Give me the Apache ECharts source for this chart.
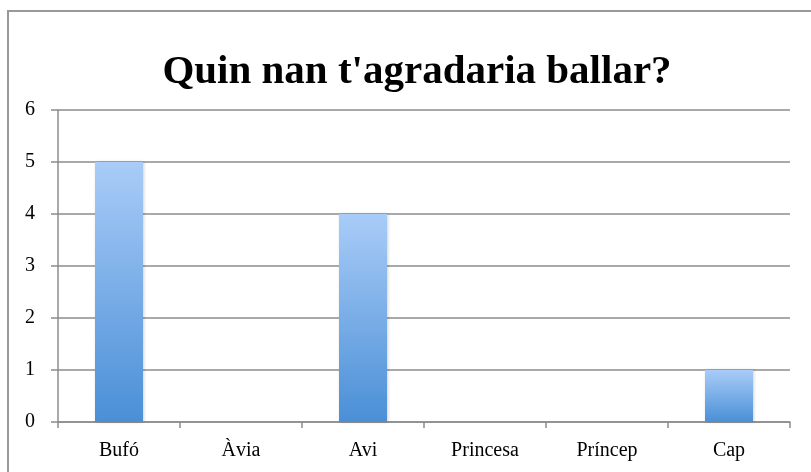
<!DOCTYPE html>
<html>
<head>
<meta charset="utf-8">
<script src="https://cdn.jsdelivr.net/npm/echarts@6/dist/echarts.min.js"></script>
<style>
  html, body { margin: 0; padding: 0; background: #fff; }
  #chart { width: 811px; height: 472px; }
</style>
</head>
<body>
<div id="chart"></div>
<script>
const categories = ['Bufó', 'Àvia', 'Avi', 'Princesa', 'Príncep', 'Cap'];
const values = [5, 0, 4, 0, 0, 1];
const yTicks = [0, 1, 2, 3, 4, 5, 6];

const chart = echarts.init(document.getElementById('chart'));
const grey = '#8c8c8c';
const serif = '"Liberation Serif", "DejaVu Serif", serif';

chart.setOption({
    animation: false,
    backgroundColor: '#fff',
    graphic: [{
        type: 'polyline',
        shape: { points: [[8, 480], [8, 11], [820, 11]] },
        style: { stroke: '#999', lineWidth: 2, fill: null }
    }],
    title: {
        text: "Quin nan t'agradaria ballar?",
        left: 412,
        textAlign: 'center',
        top: 47,
        textStyle: { fontFamily: serif, fontWeight: 'bold', fontSize: 41, color: '#000' }
    },
    grid: { left: 58, right: 21, top: 110, bottom: 50 },
    xAxis: {
        type: 'category',
        data: categories,
        axisLine: { lineStyle: { color: grey, width: 1.5 } },
        axisTick: { show: true, length: 6, lineStyle: { color: grey, width: 1.5 } },
        axisLabel: { fontFamily: serif, fontSize: 20, color: '#000', margin: 19 }
    },
    yAxis: {
        type: 'value',
        min: yTicks[0],
        max: yTicks[yTicks.length - 1],
        interval: 1,
        axisLine: { show: true, lineStyle: { color: grey, width: 1.5 } },
        axisTick: { show: true, length: 7, lineStyle: { color: grey, width: 1.5 } },
        axisLabel: { fontFamily: serif, fontSize: 20, color: '#000', margin: 23 },
        splitLine: { lineStyle: { color: grey, width: 1.5 } }
    },
    series: [{
        type: 'bar',
        data: values,
        barWidth: 48,
        itemStyle: {
            color: new echarts.graphic.LinearGradient(0, 0, 0, 1, [
                { offset: 0, color: '#a9ccf8' },
                { offset: 1, color: '#4a8fd6' }
            ]),
            shadowColor: 'rgba(0,0,0,0.18)',
            shadowBlur: 3,
            shadowOffsetX: 1
        }
    }]
});
</script>
</body>
</html>
